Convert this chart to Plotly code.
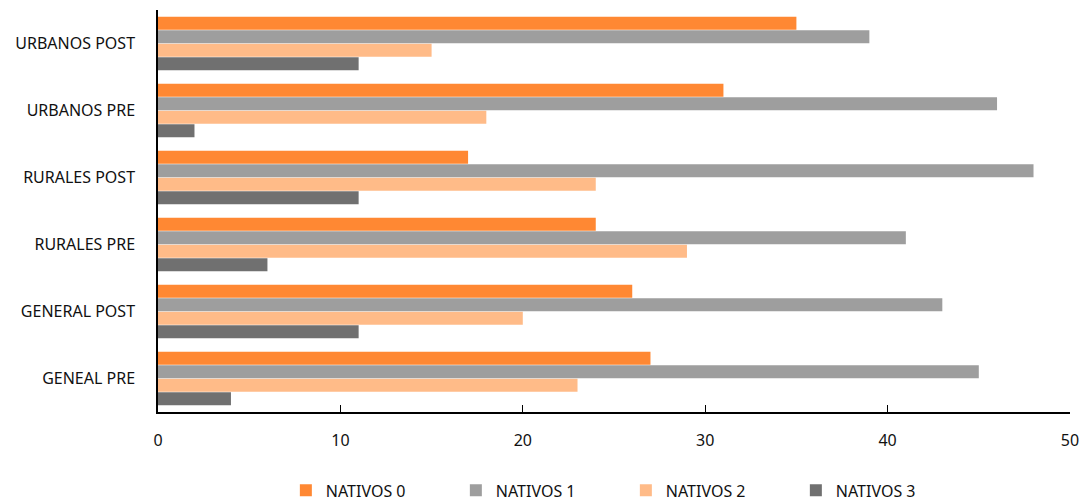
import plotly.graph_objects as go

categories = ["GENEAL PRE", "GENERAL POST", "RURALES PRE", "RURALES POST", "URBANOS PRE", "URBANOS POST"]
nativos0 = [27, 26, 24, 17, 31, 35]
nativos1 = [45, 43, 41, 48, 46, 39]
nativos2 = [23, 20, 29, 24, 18, 15]
nativos3 = [4, 11, 6, 11, 2, 11]
series_names = ["NATIVOS 0", "NATIVOS 1", "NATIVOS 2", "NATIVOS 3"]
colors = ["#FF8833", "#9E9E9E", "#FFBB88", "#707070"]
x_ticks = [0, 10, 20, 30, 40, 50]

values = [nativos0, nativos1, nativos2, nativos3]

fig = go.Figure()
for i in reversed(range(4)):
    fig.add_trace(go.Bar(
        y=categories, x=values[i], name=series_names[i], orientation="h",
        marker=dict(color=colors[i], line=dict(width=0)),
    ))

font_family = "'Noto Sans', sans-serif"
fig.update_layout(
    width=1084, height=501,
    margin=dict(l=158, r=14, t=10, b=89, autoexpand=False),
    barmode="group", bargap=0.19, bargroupgap=0.04,
    plot_bgcolor="white", paper_bgcolor="white",
    font=dict(family=font_family, size=16, color="#111111"),
    legend=dict(orientation="h", traceorder="reversed", x=0.513, xanchor="center",
                y=-0.195, yanchor="middle", font=dict(size=16),
                entrywidth=125, entrywidthmode="pixels", itemsizing="constant"),
    xaxis=dict(range=[0, 50], tickvals=x_ticks, showgrid=False, zeroline=False,
               showline=True, linecolor="black", linewidth=1.5,
               ticks="inside", ticklen=7, tickcolor="black",
               ticklabelstandoff=13, tickfont=dict(size=16)),
    yaxis=dict(categoryorder="array", categoryarray=categories, showgrid=False,
               showline=True, linecolor="black", linewidth=1.5, ticks="",
               ticklabelstandoff=18, tickfont=dict(size=16)),
)

fig.write_html("out.html")
